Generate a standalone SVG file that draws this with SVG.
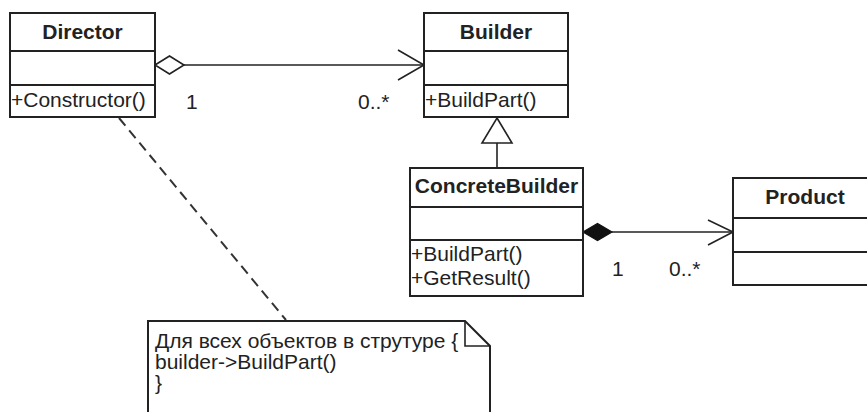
<svg xmlns="http://www.w3.org/2000/svg" width="867" height="412" viewBox="0 0 867 412">
<style>
.box{fill:#fff;stroke:#222;stroke-width:2}
.sep{stroke:#222;stroke-width:2}
.t{font-family:"Liberation Sans",Arial,sans-serif;font-size:21px;fill:#222}
.b{font-weight:bold;text-anchor:middle}
.ln{fill:none;stroke:#222;stroke-width:1.6}
</style>
<rect width="867" height="412" fill="#fff"/>
<g id="connectors">
<line class="ln" x1="184" y1="65" x2="423" y2="65"/>
<path class="ln" d="M155,65 L169.5,56 L184,65 L169.5,74 Z" fill="#fff"/>
<path class="ln" d="M398,50 L424,65 L398,80"/>
<text class="t" x="186" y="109">1</text>
<text class="t" x="358" y="109">0..*</text>
<line class="ln" x1="497" y1="143" x2="497" y2="168"/>
<path class="ln" d="M497,118 L512,143 L482,143 Z" fill="#fff"/>
<line class="ln" x1="612" y1="232" x2="732" y2="232"/>
<path d="M583,232 L597.5,223.5 L612,232 L597.5,240.5 Z" fill="#111" stroke="#111" stroke-width="1.2"/>
<path class="ln" d="M708,220 L733,232 L708,245"/>
<text class="t" x="612" y="276">1</text>
<text class="t" x="669" y="276">0..*</text>
<line x1="119" y1="118" x2="286" y2="320" stroke="#333" stroke-width="2" stroke-dasharray="10,6"/>
</g>
<g id="director">
<rect class="box" x="10" y="13" width="145" height="104"/>
<line class="sep" x1="10" y1="51" x2="155" y2="51"/>
<line class="sep" x1="10" y1="85" x2="155" y2="85"/>
<text class="t b" x="82.5" y="39">Director</text>
<text class="t" x="11" y="107">+Constructor()</text>
</g>
<g id="builder">
<rect class="box" x="424" y="13" width="144" height="104"/>
<line class="sep" x1="424" y1="51" x2="568" y2="51"/>
<line class="sep" x1="424" y1="85" x2="568" y2="85"/>
<text class="t b" x="496" y="39">Builder</text>
<text class="t" x="425" y="107">+BuildPart()</text>
</g>
<g id="concretebuilder">
<rect class="box" x="410" y="168" width="173" height="128"/>
<line class="sep" x1="410" y1="207" x2="583" y2="207"/>
<line class="sep" x1="410" y1="240" x2="583" y2="240"/>
<text class="t b" x="496.5" y="193">ConcreteBuilder</text>
<text class="t" x="411" y="261">+BuildPart()</text>
<text class="t" x="411" y="285">+GetResult()</text>
</g>
<g id="product">
<rect class="box" x="733" y="178" width="150" height="107"/>
<line class="sep" x1="733" y1="218" x2="867" y2="218"/>
<line class="sep" x1="733" y1="252" x2="867" y2="252"/>
<text class="t b" x="805" y="204">Product</text>
</g>
<g id="note">
<path class="box" d="M148,421 L148,321 L465,321 L490,346 L490,421"/>
<path class="ln" d="M465,321 L465,346 L490,346" stroke-width="1.4"/>
<text class="t" x="155" y="348">Для всех объектов в струтуре {</text>
<text class="t" x="155" y="369">builder-&gt;BuildPart()</text>
<text class="t" x="155" y="390">}</text>
</g>
</svg>
